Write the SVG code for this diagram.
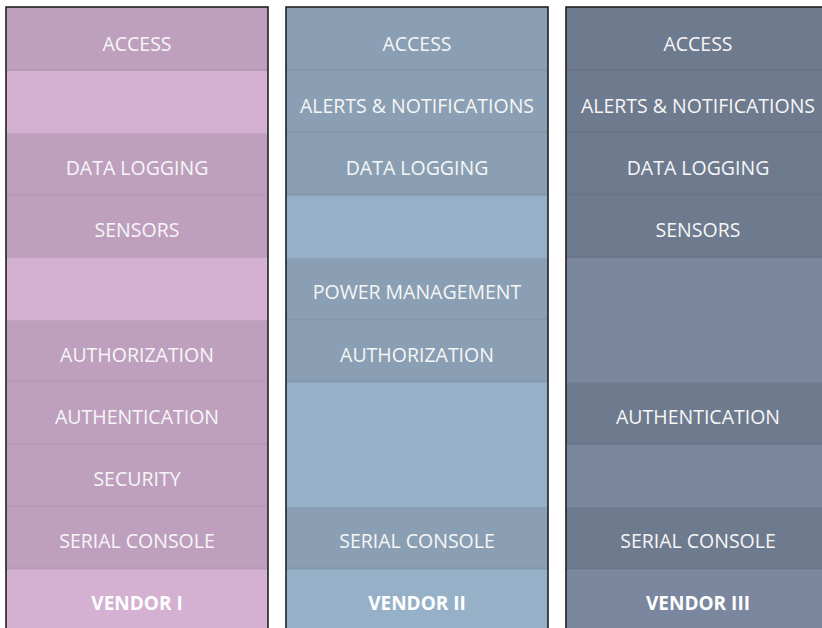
<svg xmlns="http://www.w3.org/2000/svg" width="822" height="628" viewBox="0 0 822 628">
  <style>
    .lbl { font-family: "Open Sans", "DejaVu Sans", sans-serif; font-size: 19.5px; fill: #f6f6f6; text-anchor: middle; }
    .vendor { font-weight: bold; font-size: 19px; fill: #ffffff; }
    .frame { fill: none; stroke: #1e2222; stroke-width: 1.6; }
    .sep { fill: #000; fill-opacity: 0.045; }
    .v1 .bg { fill: #d4b0d2; } .v1 .on { fill: #bea0be; }
    .v2 .bg { fill: #96b0c8; } .v2 .on { fill: #8a9fb3; }
    .v3 .bg { fill: #7a879f; } .v3 .on { fill: #6e7a8e; }
  </style>
  <rect width="822" height="628" fill="#ffffff"/>

  <!-- Vendor I -->
  <g id="vendor-1" class="v1">
    <rect class="bg" x="6" y="7" width="262" height="640"/>
    <rect class="on" x="6" y="7" width="262" height="64"/>
    <rect class="on" x="6" y="133.3" width="262" height="124.6"/>
    <rect class="on" x="6" y="320.2" width="262" height="249.2"/>
    <rect class="sep" x="6" y="69" width="262" height="2"/>
    <rect class="sep" x="6" y="193.6" width="262" height="2"/>
    <rect class="sep" x="6" y="380.5" width="262" height="2"/>
    <rect class="sep" x="6" y="442.8" width="262" height="2"/>
    <rect class="sep" x="6" y="505.1" width="262" height="2"/>
    <rect class="sep" x="6" y="567.4" width="262" height="2"/>
    <rect class="frame" x="6" y="7" width="262" height="640"/>
    <text class="lbl" x="137" y="50.5">ACCESS</text>
    <text class="lbl" x="137" y="174.9">DATA LOGGING</text>
    <text class="lbl" x="137" y="237.1">SENSORS</text>
    <text class="lbl" x="137" y="361.5">AUTHORIZATION</text>
    <text class="lbl" x="137" y="423.7">AUTHENTICATION</text>
    <text class="lbl" x="137" y="485.9">SECURITY</text>
    <text class="lbl" x="137" y="548.1">SERIAL CONSOLE</text>
    <text class="lbl vendor" x="137" y="610.3">VENDOR I</text>
  </g>

  <!-- Vendor II -->
  <g id="vendor-2" class="v2">
    <rect class="bg" x="286" y="7" width="262" height="640"/>
    <rect class="on" x="286" y="7" width="262" height="188.6"/>
    <rect class="on" x="286" y="257.9" width="262" height="124.6"/>
    <rect class="on" x="286" y="507.1" width="262" height="62.3"/>
    <rect class="sep" x="286" y="69" width="262" height="2"/>
    <rect class="sep" x="286" y="131.3" width="262" height="2"/>
    <rect class="sep" x="286" y="193.6" width="262" height="2"/>
    <rect class="sep" x="286" y="318.2" width="262" height="2"/>
    <rect class="sep" x="286" y="380.5" width="262" height="2"/>
    <rect class="sep" x="286" y="567.4" width="262" height="2"/>
    <rect class="frame" x="286" y="7" width="262" height="640"/>
    <text class="lbl" x="417" y="50.5">ACCESS</text>
    <text class="lbl" x="417" y="112.7">ALERTS &amp; NOTIFICATIONS</text>
    <text class="lbl" x="417" y="174.9">DATA LOGGING</text>
    <text class="lbl" x="417" y="299.3">POWER MANAGEMENT</text>
    <text class="lbl" x="417" y="361.5">AUTHORIZATION</text>
    <text class="lbl" x="417" y="548.1">SERIAL CONSOLE</text>
    <text class="lbl vendor" x="417" y="610.3">VENDOR II</text>
  </g>

  <!-- Vendor III -->
  <g id="vendor-3" class="v3">
    <rect class="bg" x="566" y="7" width="264" height="640"/>
    <rect class="on" x="566" y="7" width="264" height="250.9"/>
    <rect class="on" x="566" y="382.5" width="264" height="62.3"/>
    <rect class="on" x="566" y="507.1" width="264" height="62.3"/>
    <rect class="sep" x="566" y="69" width="264" height="2"/>
    <rect class="sep" x="566" y="131.3" width="264" height="2"/>
    <rect class="sep" x="566" y="193.6" width="264" height="2"/>
    <rect class="sep" x="566" y="255.9" width="264" height="2"/>
    <rect class="sep" x="566" y="442.8" width="264" height="2"/>
    <rect class="sep" x="566" y="567.4" width="264" height="2"/>
    <rect class="frame" x="566" y="7" width="264" height="640"/>
    <text class="lbl" x="698" y="50.5">ACCESS</text>
    <text class="lbl" x="698" y="112.7">ALERTS &amp; NOTIFICATIONS</text>
    <text class="lbl" x="698" y="174.9">DATA LOGGING</text>
    <text class="lbl" x="698" y="237.1">SENSORS</text>
    <text class="lbl" x="698" y="423.7">AUTHENTICATION</text>
    <text class="lbl" x="698" y="548.1">SERIAL CONSOLE</text>
    <text class="lbl vendor" x="698" y="610.3">VENDOR III</text>
  </g>
</svg>
